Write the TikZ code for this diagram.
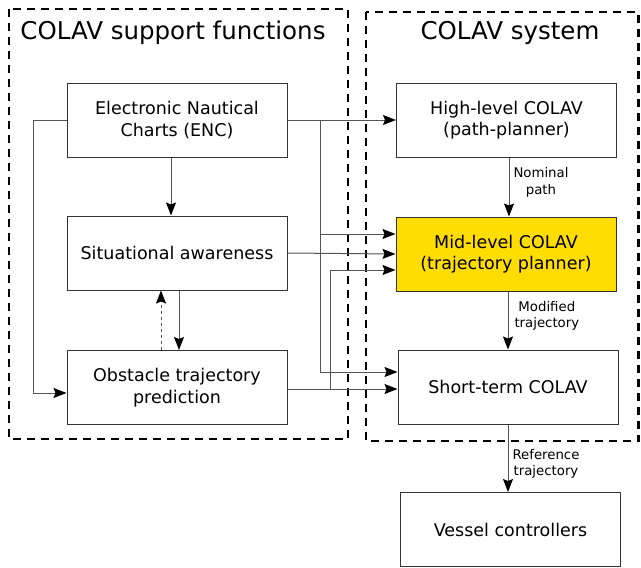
\documentclass[tikz,border=0pt]{standalone}
\usepackage{fontspec}
\setmainfont{DejaVu Sans}
\usetikzlibrary{arrows.meta,calc}
\definecolor{boxline}{HTML}{333333}
\definecolor{conn}{HTML}{555555}
\definecolor{midfill}{HTML}{FFDD00}
\tikzset{
  blk/.style={draw=boxline,line width=1pt,minimum width=220pt,minimum height=74pt,inner sep=0pt,align=center,font=\fontsize{17.5pt}{21.5pt}\selectfont},
  grp/.style={draw=black,line width=2.4pt,dash pattern=on 8pt off 6pt},
  conline/.style={draw=conn,line width=1pt},
  arr/.style={conline,-{Stealth[length=13pt,width=10pt,inset=2pt,black]}},
  lbl/.style={align=center,font=\fontsize{13.3pt}{16.5pt}\selectfont,inner sep=0pt},
  ttl/.style={font=\fontsize{24.5pt}{28pt}\selectfont,inner sep=0pt}
}
\begin{document}
\begin{tikzpicture}[x=1pt,y=-1pt]
\useasboundingbox (0,0) rectangle (641,568);
\draw[grp] (9,9) rectangle (348,439);
\draw[grp] (366,12) rectangle (638.5,441);
\node[ttl] (t1) at (173,33) {COLAV support functions};
\node[ttl] (t2) at (510,33) {COLAV system};

\node[blk] (enc) at (177,120) {Electronic Nautical\\Charts (ENC)};
\node[blk] (sa) at (177,253) {Situational awareness};
\node[blk] (otp) at (177,387.5) {Obstacle trajectory\\prediction};
\node[blk] (high) at (506.5,120) {High-level COLAV\\(path-planner)};
\node[blk,fill=midfill] (mid) at (506,254) {Mid-level COLAV\\(trajectory planner)};
\node[blk] (short) at (508,387) {Short-term COLAV};
\node[blk] (vessel) at (510.5,529.5) {Vessel controllers};

% ENC to high-level and branches
\draw[arr] (enc.east) -- (high.west);
\coordinate (j1) at (320,120);
\draw[arr] (j1) |- ($(mid.west)+(0,-20)$);
\draw[arr] (j1) |- ($(short.west)+(0,-15)$);
% SA to mid
\draw[arr] (sa.east) -- (mid.west);
% OTP to short and mid
\draw[arr] ($(otp.east)+(0,1.5)$) -- ($(short.west)+(0,2)$);
\coordinate (j2) at (330,389);
\draw[arr] (j2) |- ($(mid.west)+(0,16)$);
% ENC left loop to OTP
\coordinate (j3) at (33,120);
\draw[arr] (enc.west) -- (j3) |- ($(otp.west)+(0,5.5)$);
% vertical connections left
\draw[arr] ($(enc.south)+(-6,0)$) -- ($(sa.north)+(-6,0)$);
\draw[arr] ($(sa.south)+(2,0)$) -- ($(otp.north)+(2,0)$);
\draw[arr,dashed] ($(otp.north)+(-16,0)$) -- ($(sa.south)+(-16,0)$);
% right column
\draw[arr] ($(high.south)+(2.5,0)$) -- node[lbl,right=4pt,pos=0.42] (l1) {Nominal\\path} ($(mid.north)+(3,0)$);
\draw[arr] ($(mid.south)+(2,0)$) -- node[lbl,right=6pt,pos=0.42] (l2) {Modified\\trajectory} (short.north);
\draw[arr] (short.south) -- node[lbl,right=4pt,pos=0.58] (l3) {Reference\\trajectory} ($(vessel.north)+(-2.5,0)$);
\end{tikzpicture}
\end{document}
